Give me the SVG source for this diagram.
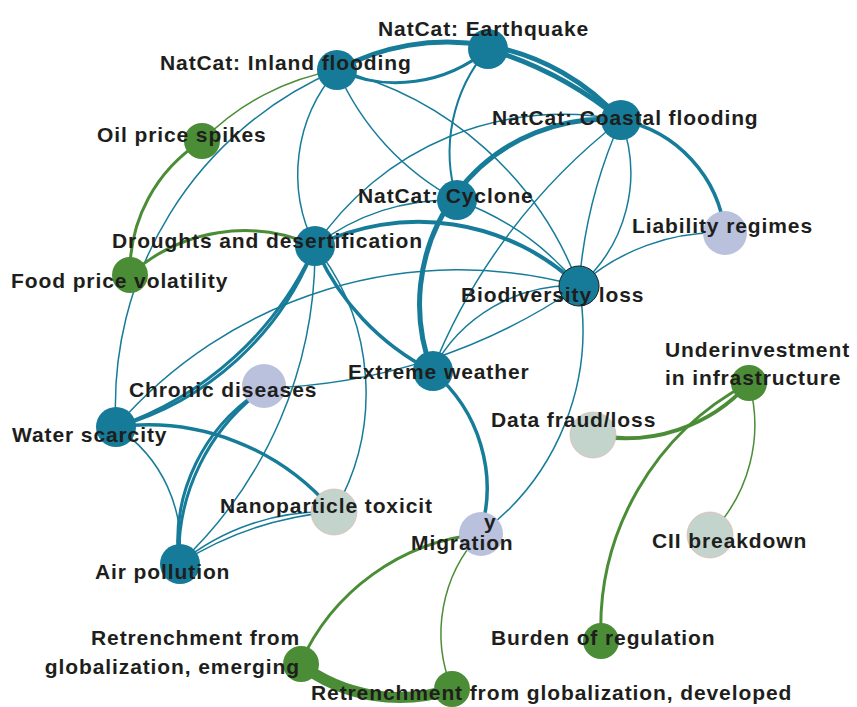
<svg xmlns="http://www.w3.org/2000/svg" width="857" height="707" viewBox="0 0 857 707">
<style>
.e{fill:none;}
.t{stroke:#177c99;}
.g{stroke:#4b8d36;}
.nt{fill:#157b98;}
.ng{fill:#4b8d36;}
.nl{fill:#b9c1dc;}
.nx{fill:#c3d4cc;stroke:#e3b3b0;stroke-width:0.7;}
.lb{font-family:"Liberation Sans",Arial,sans-serif;font-weight:bold;font-size:21px;letter-spacing:0.9px;fill:#1e1e1c;}
</style>
<rect width="857" height="707" fill="#ffffff"/>
<g id="connectors">
<path class="e t" stroke-width="5" d="M337 70 A232 232 0 0 1 621 120"/>
<path class="e t" stroke-width="5" d="M488 49 A380 380 0 0 1 621 120"/>
<path class="e t" stroke-width="3" d="M337 70 A143 143 0 0 0 488 49"/>
<path class="e t" stroke-width="2" d="M488 49 A158 158 0 0 0 457 200"/>
<path class="e t" stroke-width="1.5" d="M337 70 A268 268 0 0 0 457 200"/>
<path class="e t" stroke-width="1.5" d="M337 70 A348 348 0 0 1 579 286"/>
<path class="e t" stroke-width="1.5" d="M337 70 A158 158 0 0 0 315 246"/>
<path class="e t" stroke-width="1.5" d="M337 70 A365 365 0 0 0 116 427"/>
<path class="e t" stroke-width="5" d="M621 120 A185 185 0 0 0 432 371"/>
<path class="e t" stroke-width="3.5" d="M621 120 A130 130 0 0 1 725 233"/>
<path class="e t" stroke-width="1.5" d="M621 120 A299 299 0 0 0 315 246"/>
<path class="e t" stroke-width="1.5" d="M621 120 A597 597 0 0 0 432 371"/>
<path class="e t" stroke-width="1.5" d="M621 120 A500 500 0 0 0 579 286"/>
<path class="e t" stroke-width="1.5" d="M621 120 A149 149 0 0 1 579 286"/>
<path class="e t" stroke-width="1.5" d="M457 200 A282 282 0 0 1 579 286"/>
<path class="e t" stroke-width="1.5" d="M315 246 A220 220 0 0 1 457 200"/>
<path class="e t" stroke-width="4" d="M315 246 A233 233 0 0 1 579 286"/>
<path class="e t" stroke-width="3.5" d="M315 246 A251 251 0 0 0 432 371"/>
<path class="e t" stroke-width="3" d="M315 246 A337 337 0 0 1 116 427"/>
<path class="e t" stroke-width="3" d="M315 246 A300 300 0 0 1 116 427"/>
<path class="e t" stroke-width="1.5" d="M315 246 A237 237 0 0 1 334 512"/>
<path class="e t" stroke-width="1.5" d="M315 246 A430 430 0 0 1 179 564"/>
<path class="e t" stroke-width="1.5" d="M116 427 A453 453 0 0 1 579 286"/>
<path class="e t" stroke-width="3.5" d="M116 427 A243 243 0 0 1 334 512"/>
<path class="e t" stroke-width="1.5" d="M116 427 A141 141 0 0 1 179 564"/>
<path class="e t" stroke-width="3" d="M179 564 A205 205 0 0 1 265 388"/>
<path class="e t" stroke-width="3" d="M179 564 A180 180 0 0 1 265 388"/>
<path class="e t" stroke-width="1.5" d="M179 564 A230 230 0 0 1 334 512"/>
<path class="e t" stroke-width="1.5" d="M179 564 A339 339 0 0 1 334 512"/>
<path class="e t" stroke-width="1.5" d="M265 388 A579 579 0 0 0 579 286"/>
<path class="e t" stroke-width="1.5" d="M432 371 A157 157 0 0 1 579 286"/>
<path class="e t" stroke-width="1.5" d="M579 286 A208 208 0 0 1 725 233"/>
<path class="e t" stroke-width="1.5" d="M579 286 A253 253 0 0 1 480 534"/>
<path class="e t" stroke-width="3.5" d="M432 371 A152 152 0 0 1 480 534"/>
<path class="e g" stroke-width="1.5" d="M337 70 A248 248 0 0 0 202 141"/>
<path class="e g" stroke-width="3" d="M202 141 A154 154 0 0 0 130 275"/>
<path class="e g" stroke-width="3" d="M315 246 A170 170 0 0 0 130 275"/>
<path class="e g" stroke-width="4" d="M593 435 A165 165 0 0 0 749 383"/>
<path class="e g" stroke-width="3" d="M749 383 A277 277 0 0 0 601 640"/>
<path class="e g" stroke-width="1.5" d="M749 383 A155 155 0 0 1 710 534"/>
<path class="e g" stroke-width="3" d="M480 534 A220 220 0 0 0 300 664"/>
<path class="e g" stroke-width="1.5" d="M480 534 A146 146 0 0 0 452 689"/>
<path class="e g" stroke-width="11" d="M300 664 A165 165 0 0 0 452 689"/>
</g>
<g id="node-earthquake"><circle class="nt" cx="488" cy="49" r="20"/><text class="lb" x="378" y="36">NatCat: Earthquake</text></g>
<g id="node-inland-flooding"><circle class="nt" cx="337" cy="70" r="20"/><text class="lb" x="160" y="70">NatCat: Inland flooding</text></g>
<g id="node-coastal-flooding"><circle class="nt" cx="621" cy="120" r="20"/><text class="lb" x="492" y="125">NatCat: Coastal flooding</text></g>
<g id="node-oil-price"><circle class="ng" cx="202" cy="141" r="18"/><text class="lb" x="97" y="142">Oil price spikes</text></g>
<g id="node-cyclone"><circle class="nt" cx="457" cy="200" r="20"/><text class="lb" x="358" y="203">NatCat: Cyclone</text></g>
<g id="node-droughts"><circle class="nt" cx="315" cy="246" r="20"/><text class="lb" x="112" y="248">Droughts and desertification</text></g>
<g id="node-food-price"><circle class="ng" cx="130" cy="275" r="18"/><text class="lb" x="11" y="288">Food price volatility</text></g>
<g id="node-liability"><circle class="nl" cx="725" cy="233" r="22"/><text class="lb" x="632" y="233">Liability regimes</text></g>
<g id="node-biodiversity"><circle class="nt" cx="579" cy="286" r="20" stroke="#1e1e1c" stroke-width="1"/><text class="lb" x="461" y="302">Biodiversity loss</text></g>
<g id="node-extreme-weather"><circle class="nt" cx="433" cy="371" r="20"/><text class="lb" x="348" y="379">Extreme weather</text></g>
<g id="node-chronic"><circle class="nl" cx="264" cy="386" r="22"/><text class="lb" x="129" y="397">Chronic diseases</text></g>
<g id="node-underinvestment"><circle class="ng" cx="749" cy="383" r="18"/><text class="lb" x="665" y="357">Underinvestment</text><text class="lb" x="665" y="385">in infrastructure</text></g>
<g id="node-data-fraud"><circle class="nx" cx="593" cy="435" r="23"/><text class="lb" x="491" y="427">Data fraud/loss</text></g>
<g id="node-water"><circle class="nt" cx="116" cy="427" r="20"/><text class="lb" x="12" y="442">Water scarcity</text></g>
<g id="node-nano"><circle class="nx" cx="334" cy="512" r="23"/><text class="lb" x="220" y="513">Nanoparticle toxicit</text></g>
<g id="node-migration"><circle class="nl" cx="481" cy="534" r="22"/><text class="lb" x="484" y="529">y</text><text class="lb" x="411" y="550">Migration</text></g>
<g id="node-cii"><circle class="nx" cx="710" cy="535" r="23"/><text class="lb" x="652" y="548">CII breakdown</text></g>
<g id="node-air"><circle class="nt" cx="180" cy="564" r="20"/><text class="lb" x="95" y="579">Air pollution</text></g>
<g id="node-burden"><circle class="ng" cx="601" cy="641" r="18"/><text class="lb" x="491" y="645">Burden of regulation</text></g>
<g id="node-retrench-emerging"><circle class="ng" cx="301" cy="664" r="18"/><text class="lb" x="300" y="645" text-anchor="end">Retrenchment from</text><text class="lb" x="300" y="674" text-anchor="end">globalization, emerging</text></g>
<g id="node-retrench-developed"><circle class="ng" cx="452" cy="689" r="18"/><text class="lb" x="311" y="700">Retrenchment from globalization, developed</text></g>
</svg>
